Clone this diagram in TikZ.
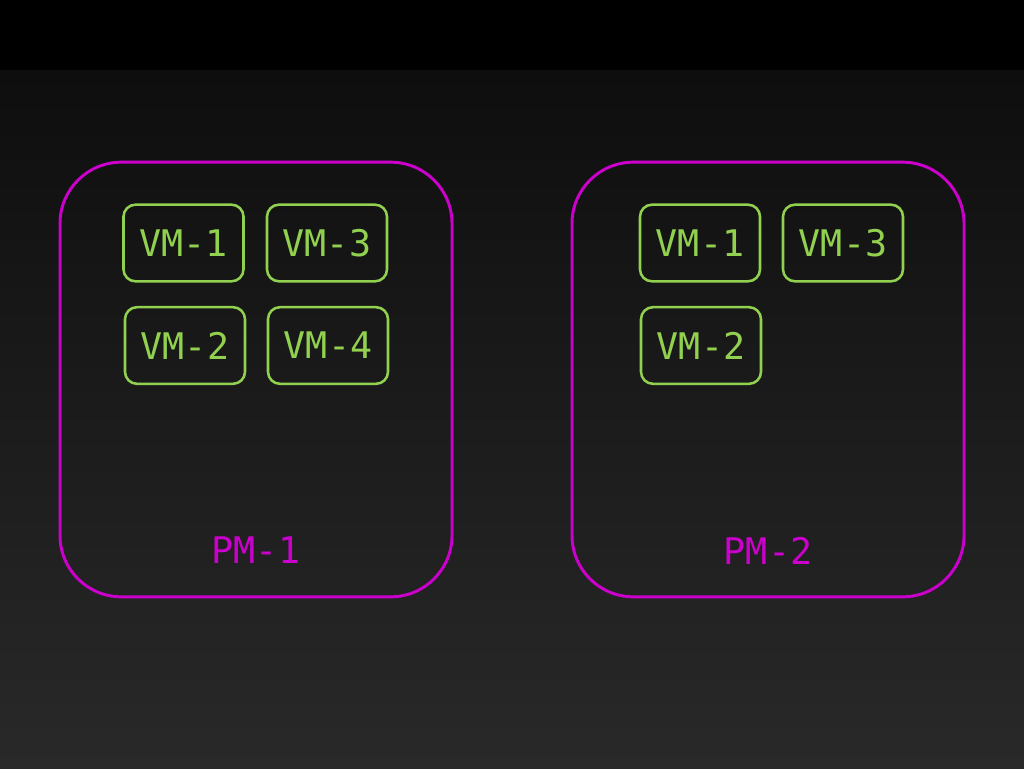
\documentclass[tikz,border=0pt]{standalone}
\usepackage{fontspec}
\setmonofont{DejaVu Sans Mono}
\definecolor{pmcol}{HTML}{CC00CC}
\definecolor{vmcol}{HTML}{92D050}
\definecolor{bgtop}{HTML}{0E0E0E}
\definecolor{bgmid}{HTML}{1F1F1F}
\definecolor{bgbot}{HTML}{292929}

\begin{document}
\begin{tikzpicture}[x=0.75pt, y=-0.75pt,
	pm/.style = {draw=pmcol, line width=2.2pt, rounded corners=46pt, minimum width=294pt, minimum height=326pt},
	pmtext/.style = {text=pmcol, font=\ttfamily\fontsize{27.5}{30}\selectfont, inner sep=0pt},
	vm/.style = {draw=vmcol, line width=1.9pt, rounded corners=9pt, minimum width=90pt, minimum height=57.5pt, text=vmcol, font=\ttfamily\fontsize{27.5}{30}\selectfont, inner sep=0pt}]
	\fill[black] (0,0) rectangle (1024,70);
	\shade[top color=bgtop, middle color=bgmid, bottom color=bgbot] (0,70) rectangle (1024,768);
	\foreach \p/\cx in {1/256,2/768} {
		\node[pm] (pm\p) at (\cx,379.5) {};
		\node[pmtext] (pm\p label) at (\cx,550.5) {PM-\p};
	}
	\foreach \p/\v/\x/\y in {1/1/183.5/243, 1/3/327/243, 1/2/185/345.5, 1/4/328/345.5, 2/1/700/243, 2/3/843/243, 2/2/701/345.5} {
		\node[vm] (vm\p\v) at (\x,\y) {VM-\v};
	}
\end{tikzpicture}
\end{document}
